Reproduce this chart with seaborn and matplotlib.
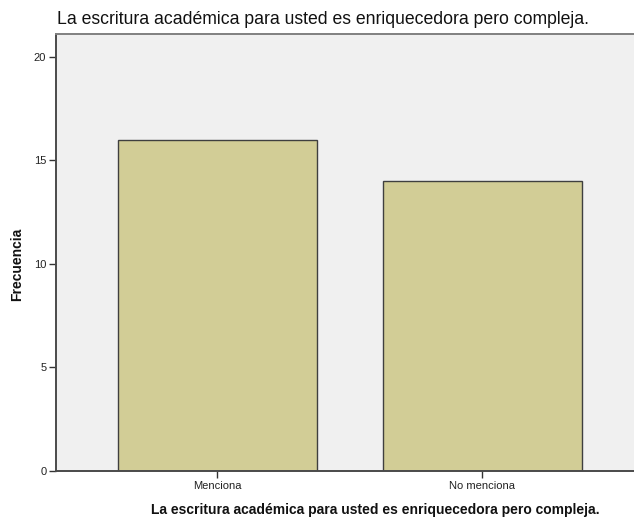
import matplotlib
matplotlib.use("Agg")
import matplotlib.pyplot as plt
import seaborn as sns
import pandas as pd

categories = ["Menciona", "No menciona"]
frecuencias = [16, 14]
yticks = [0, 5, 10, 15, 20]
titulo = "La escritura académica para usted es enriquecedora pero compleja."

df = pd.DataFrame({"categoria": categories, "frecuencia": frecuencias})

sns.set_theme(style="white")
plt.rcParams["font.family"] = ["Liberation Sans", "DejaVu Sans"]

W, H = 634, 520
fig = plt.figure(figsize=(W / 100, H / 100), dpi=100)
ax = fig.add_axes([56 / W, 1 - 471 / H, (634 - 56) / W, (471 - 34) / H])
ax.set_facecolor("#F0F0F0")

sns.barplot(data=df, x="categoria", y="frecuencia", ax=ax, color="#D2CD96",
            saturation=1, width=0.75, edgecolor="#3f3f3f", linewidth=1.0)

ax.set_xlim(-0.609, 1.572)
ax.set_ylim(0, 21.1)
ax.set_yticks(yticks)
ax.set_yticklabels([str(t) for t in yticks])
ax.set_xlabel("")
ax.set_ylabel("")

for side in ["top", "left", "bottom"]:
    ax.spines[side].set_visible(True)
    ax.spines[side].set_color("#4a4a4a")
    ax.spines[side].set_linewidth(1.4)
ax.spines["right"].set_visible(False)
ax.spines["top"].set_color("#808080")

ax.tick_params(axis="both", which="both", direction="out", length=5, width=1,
               color="#333333", labelsize=8, labelcolor="#222222",
               left=True, bottom=True, pad=2)

fig.text(323 / W, 1 - 19 / H, titulo, ha="center", va="center",
         fontsize=12.7, color="#111111")
fig.text(375 / W, 1 - 510 / H, titulo, ha="center", va="center",
         fontsize=10, fontweight="bold", color="#111111")
fig.text(17 / W, 1 - 264 / H, "Frecuencia", ha="center", va="center",
         rotation=90, fontsize=10, fontweight="bold", color="#111111")

fig.savefig("out.png", dpi=100)
